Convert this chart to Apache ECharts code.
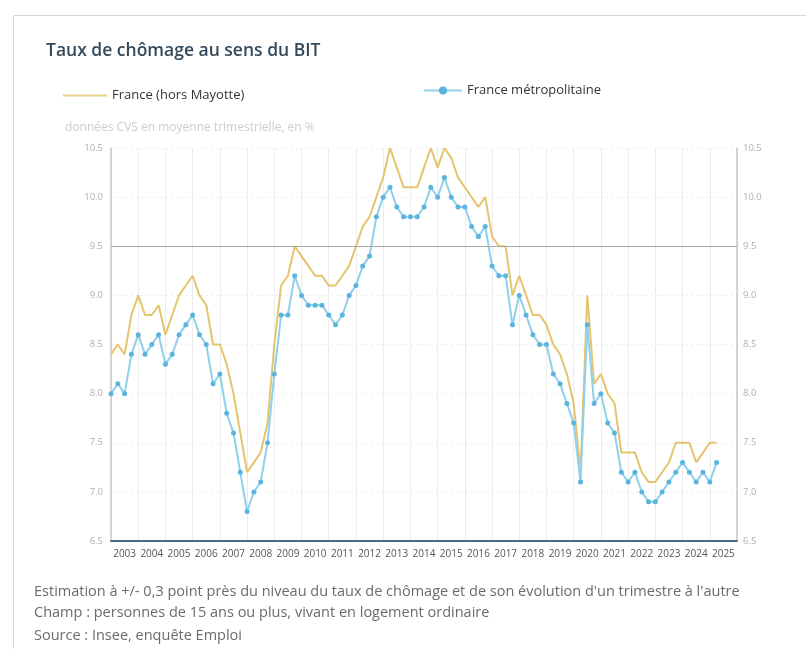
<!DOCTYPE html>
<html>
<head>
<meta charset="utf-8">
<script src="https://cdn.jsdelivr.net/npm/echarts@6/dist/echarts.min.js"></script>
<style>
  html, body { margin: 0; padding: 0; background: #ffffff; }
  #chart { width: 806px; height: 649px; }
</style>
</head>
<body>
<div id="chart"></div>
<script>
// Year labels along the time axis (one band per year, 2003 to 2025)
const years = ['2003','2004','2005','2006','2007','2008','2009','2010','2011','2012','2013','2014',
  '2015','2016','2017','2018','2019','2020','2021','2022','2023','2024','2025'];

// Quarterly unemployment rate (ILO definition), seasonally adjusted, in %, from 2003 Q1
const franceHorsMayotte = [
  8.4, 8.5, 8.4, 8.8,   9.0, 8.8, 8.8, 8.9,   8.6, 8.8, 9.0, 9.1,   9.2, 9.0, 8.9, 8.5,
  8.5, 8.3, 8.0, 7.6,   7.2, 7.3, 7.4, 7.7,   8.5, 9.1, 9.2, 9.5,   9.4, 9.3, 9.2, 9.2,
  9.1, 9.1, 9.2, 9.3,   9.5, 9.7, 9.8, 10.0,  10.2, 10.5, 10.3, 10.1, 10.1, 10.1, 10.3, 10.5,
  10.3, 10.5, 10.4, 10.2, 10.1, 10.0, 9.9, 10.0, 9.6, 9.5, 9.5, 9.0,   9.2, 9.0, 8.8, 8.8,
  8.7, 8.5, 8.4, 8.2,   7.9, 7.2, 9.0, 8.1,   8.2, 8.0, 7.9, 7.4,   7.4, 7.4, 7.2, 7.1,
  7.1, 7.2, 7.3, 7.5,   7.5, 7.5, 7.3, 7.4,   7.5, 7.5
];
const franceMetropolitaine = [
  8.0, 8.1, 8.0, 8.4,   8.6, 8.4, 8.5, 8.6,   8.3, 8.4, 8.6, 8.7,   8.8, 8.6, 8.5, 8.1,
  8.2, 7.8, 7.6, 7.2,   6.8, 7.0, 7.1, 7.5,   8.2, 8.8, 8.8, 9.2,   9.0, 8.9, 8.9, 8.9,
  8.8, 8.7, 8.8, 9.0,   9.1, 9.3, 9.4, 9.8,   10.0, 10.1, 9.9, 9.8,  9.8, 9.8, 9.9, 10.1,
  10.0, 10.2, 10.0, 9.9, 9.9, 9.7, 9.6, 9.7,  9.3, 9.2, 9.2, 8.7,   9.0, 8.8, 8.6, 8.5,
  8.5, 8.2, 8.1, 7.9,   7.7, 7.1, 8.7, 7.9,   8.0, 7.7, 7.6, 7.2,   7.1, 7.2, 7.0, 6.9,
  6.9, 7.0, 7.1, 7.2,   7.3, 7.2, 7.1, 7.2,   7.1, 7.3
];

// Value-axis range
const yMin = 6.5, yMax = 10.5, yStep = 0.5;
const referenceLevel = 9.5;

const toPoints = arr => arr.map((v, i) => [i, v]);   // x = quarter index from 2003 Q1

const chart = echarts.init(document.getElementById('chart'), null, { renderer: 'canvas' });

const fontFamily = '"Open Sans", "Noto Sans", sans-serif';
const axisText = { color: '#b0b0b0', fontSize: 9.5, fontFamily };
const noteFont = '14.5px "Open Sans", sans-serif';

chart.setOption({
  animation: false,
  backgroundColor: '#ffffff',
  title: [
    {
      text: 'Taux de chômage au sens du BIT',
      left: 41, top: 37,
      textStyle: { fontFamily, fontSize: 17.5, fontWeight: 600, color: '#34495a' }
    },
    {
      text: 'données CVS en moyenne trimestrielle, en %',
      left: 60, top: 117,
      textStyle: { fontFamily, fontSize: 12, fontWeight: 'normal', color: '#cdcdcd' }
    }
  ],
  legend: [
    {
      data: [{ name: 'France (hors Mayotte)', icon: 'rect' }],
      left: 58, top: 84,
      itemWidth: 44, itemHeight: 2, itemGap: 10,
      textStyle: { fontFamily, fontSize: 13, color: '#333' }
    },
    {
      data: ['France métropolitaine'],
      left: 418, top: 79,
      itemWidth: 38, itemHeight: 10, itemGap: 10,
      textStyle: { fontFamily, fontSize: 13, color: '#333' }
    }
  ],
  grid: { left: 111, right: 69, top: 148, bottom: 108, containLabel: false },
  xAxis: [
    {
      type: 'category',
      data: years,
      boundaryGap: true,
      position: 'bottom',
      axisLine: { show: true, lineStyle: { color: '#4f6b86', width: 2 } },
      axisTick: { show: false },
      axisLabel: { color: '#555', fontSize: 10, fontFamily, margin: 8, interval: 0 },
      splitLine: { show: true, lineStyle: { color: '#ececec', width: 1 } }
    },
    {
      type: 'value',
      min: 0, max: years.length * 4,
      show: false
    }
  ],
  yAxis: [
    {
      type: 'value',
      min: yMin, max: yMax, interval: yStep,
      position: 'left',
      axisLine: { show: true, lineStyle: { color: '#c8c8c8', width: 1.5 } },
      axisTick: { show: false },
      axisLabel: Object.assign({ margin: 8, formatter: v => v.toFixed(1) }, axisText),
      splitLine: { show: true, lineStyle: { color: '#ececec', type: [2, 3] } }
    },
    {
      type: 'value',
      min: yMin, max: yMax, interval: yStep,
      position: 'right',
      axisLine: { show: true, lineStyle: { color: '#c8c8c8', width: 1.5 } },
      axisTick: { show: false },
      axisLabel: Object.assign({ margin: 6, formatter: v => v.toFixed(1) }, axisText),
      splitLine: { show: false }
    }
  ],
  series: [
    {
      name: 'France (hors Mayotte)',
      type: 'line',
      xAxisIndex: 1, yAxisIndex: 0,
      data: toPoints(franceHorsMayotte),
      showSymbol: false,
      symbol: 'none',
      lineStyle: { color: '#e6c46c', width: 2 },
      itemStyle: { color: '#e9d28f' },
      z: 3,
      markLine: {
        silent: true,
        symbol: 'none',
        label: { show: false },
        lineStyle: { color: '#a9a9a9', width: 1, type: 'solid' },
        data: [{ yAxis: referenceLevel }]
      }
    },
    {
      name: 'France métropolitaine',
      type: 'line',
      xAxisIndex: 1, yAxisIndex: 0,
      data: toPoints(franceMetropolitaine),
      symbol: 'circle',
      symbolSize: 5,
      lineStyle: { color: '#8fd0ec', width: 2 },
      itemStyle: { color: '#5bb4de', borderWidth: 0 },
      z: 4
    }
  ],
  graphic: [
    {
      type: 'rect',
      shape: { x: 13.5, y: 15.5, width: 800, height: 640 },
      style: { fill: 'none', stroke: '#d6d6d6', lineWidth: 1 },
      silent: true
    },
    {
      type: 'text',
      left: 34, top: 584,
      style: {
        text: "Estimation à +/- 0,3 point près du niveau du taux de chômage et de son évolution d'un trimestre à l'autre",
        fill: '#6b6b6b', font: noteFont
      }
    },
    {
      type: 'text',
      left: 34, top: 605,
      style: {
        text: 'Champ : personnes de 15 ans ou plus, vivant en logement ordinaire',
        fill: '#6b6b6b', font: noteFont
      }
    },
    {
      type: 'text',
      left: 34, top: 628,
      style: {
        text: 'Source : Insee, enquête Emploi',
        fill: '#6b6b6b', font: noteFont
      }
    }
  ]
});
</script>
</body>
</html>
